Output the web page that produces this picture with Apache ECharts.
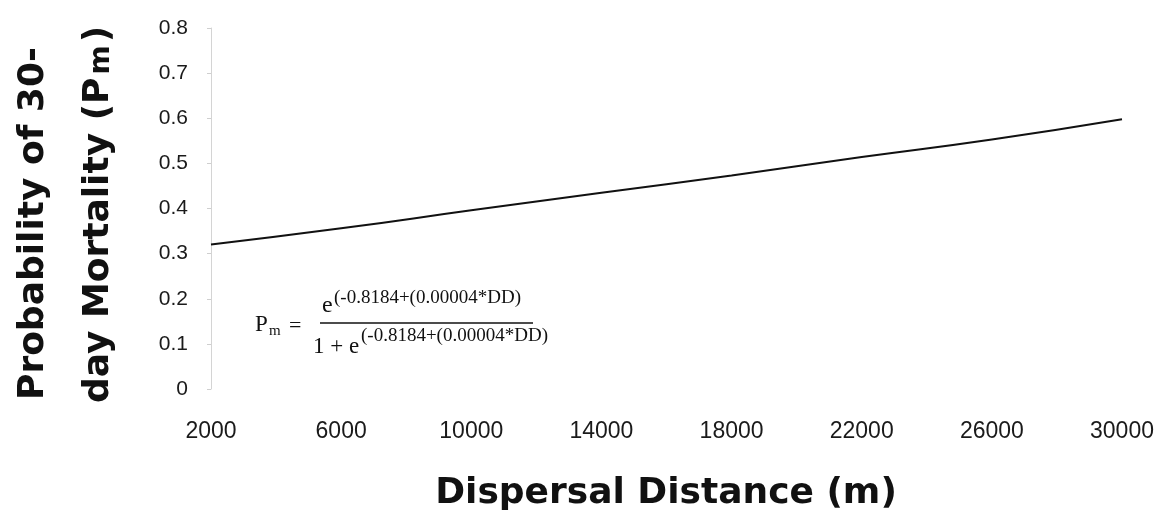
<!DOCTYPE html>
<html>
<head>
<meta charset="utf-8">
<script src="https://cdn.jsdelivr.net/npm/echarts@6/dist/echarts.min.js"></script>
<style>
  html, body { margin: 0; padding: 0; background: #ffffff; }
  #chart { width: 1166px; height: 518px; }
</style>
</head>
<body>
<div id="chart"></div>
<script>
// Dispersal distance (m) against probability of 30-day mortality
const distances = [2000, 6000, 10000, 14000, 18000, 22000, 26000, 30000];
const mortality = [0.320, 0.356, 0.396, 0.435, 0.473, 0.514, 0.553, 0.598];
const yTicks = [0, 0.1, 0.2, 0.3, 0.4, 0.5, 0.6, 0.7, 0.8];
const xTitle = 'Dispersal Distance (m)';
const yTitleLine1 = 'Probability of 30-';
const yTitleLine2 = 'day Mortality (P';
const yTitleSub = 'm';
const yTitleClose = ')';
const formulaExponent = '(-0.8184+(0.00004*DD)';

const chart = echarts.init(document.getElementById('chart'));

const serif = '"Liberation Serif", "DejaVu Serif", serif';
const sans = '"Liberation Sans", Arial, sans-serif';
const boldSans = '"DejaVu Sans", "Liberation Sans", sans-serif';

// measure text so the rotated title pieces can be chained
const measureCtx = document.createElement('canvas').getContext('2d');
function textWidth(str, font) {
  measureCtx.font = font;
  return measureCtx.measureText(str).width;
}

const titleSize = 36;
const subSize = 28;
const titleFont = 'bold ' + titleSize + 'px ' + boldSans;
const subFont = 'bold ' + subSize + 'px ' + boldSans;
const line2Start = 403;
const line2Width = textWidth(yTitleLine2, titleFont);
const subStart = line2Start - line2Width - 3;
const subWidth = textWidth(yTitleSub, subFont);
const closeStart = subStart - subWidth - 3;

chart.setOption({
  backgroundColor: '#ffffff',
  animation: false,
  grid: { left: 211, right: 44, top: 28, bottom: 129 },
  xAxis: {
    type: 'value',
    min: distances[0],
    max: distances[distances.length - 1],
    interval: 4000,
    axisLine: { show: false },
    axisTick: { show: false },
    splitLine: { show: false },
    axisLabel: {
      margin: 31,
      color: '#1a1a1a',
      fontFamily: sans,
      fontSize: 23,
      formatter: v => String(v)
    }
  },
  yAxis: {
    type: 'value',
    min: yTicks[0],
    max: yTicks[yTicks.length - 1],
    interval: 0.1,
    axisLine: { show: true, lineStyle: { color: '#d4d4d4', width: 1 } },
    axisTick: { show: true, inside: false, length: 4, lineStyle: { color: '#cfcfcf' } },
    splitLine: { show: false },
    axisLabel: {
      margin: 23,
      color: '#1a1a1a',
      fontFamily: sans,
      fontSize: 21,
      formatter: v => String(Math.round(v * 10) / 10)
    }
  },
  series: [{
    type: 'line',
    data: distances.map((d, i) => [d, mortality[i]]),
    showSymbol: false,
    smooth: true,
    lineStyle: { color: '#111111', width: 2 }
  }],
  graphic: [
    // x-axis title
    {
      type: 'text', x: 666, y: 494,
      style: {
        text: xTitle, fill: '#111111', align: 'center', verticalAlign: 'middle',
        font: 'bold 36px ' + boldSans
      }
    },
    // y-axis title, two rotated lines
    {
      type: 'text', x: 34, y: 400, rotation: Math.PI / 2,
      style: {
        text: yTitleLine1, fill: '#111111', align: 'left', verticalAlign: 'middle',
        font: titleFont
      }
    },
    {
      type: 'text', x: 99, y: line2Start, rotation: Math.PI / 2,
      style: {
        text: yTitleLine2, fill: '#111111', align: 'left', verticalAlign: 'middle',
        font: titleFont
      }
    },
    {
      type: 'text', x: 102, y: subStart, rotation: Math.PI / 2,
      style: {
        text: yTitleSub, fill: '#111111', align: 'left', verticalAlign: 'middle',
        font: subFont
      }
    },
    {
      type: 'text', x: 99, y: closeStart, rotation: Math.PI / 2,
      style: {
        text: yTitleClose, fill: '#111111', align: 'left', verticalAlign: 'middle',
        font: titleFont
      }
    },
    // logistic model annotation
    {
      type: 'text', x: 255, y: 325,
      style: { text: 'P', fill: '#111', align: 'left', verticalAlign: 'middle', font: '23px ' + serif }
    },
    {
      type: 'text', x: 269, y: 331,
      style: { text: 'm', fill: '#111', align: 'left', verticalAlign: 'middle', font: '15px ' + serif }
    },
    {
      type: 'text', x: 289, y: 326,
      style: { text: '=', fill: '#111', align: 'left', verticalAlign: 'middle', font: '22px ' + serif }
    },
    {
      type: 'text', x: 322, y: 306,
      style: { text: 'e', fill: '#111', align: 'left', verticalAlign: 'middle', font: '24px ' + serif }
    },
    {
      type: 'text', x: 334, y: 298,
      style: { text: formulaExponent, fill: '#111', align: 'left', verticalAlign: 'middle', font: '19px ' + serif }
    },
    {
      type: 'line',
      shape: { x1: 320, y1: 323, x2: 533, y2: 323 },
      style: { stroke: '#111', lineWidth: 1.5 }
    },
    {
      type: 'text', x: 313, y: 347,
      style: { text: '1 + e', fill: '#111', align: 'left', verticalAlign: 'middle', font: '23px ' + serif }
    },
    {
      type: 'text', x: 361, y: 336,
      style: { text: formulaExponent, fill: '#111', align: 'left', verticalAlign: 'middle', font: '19px ' + serif }
    }
  ]
});
</script>
</body>
</html>
